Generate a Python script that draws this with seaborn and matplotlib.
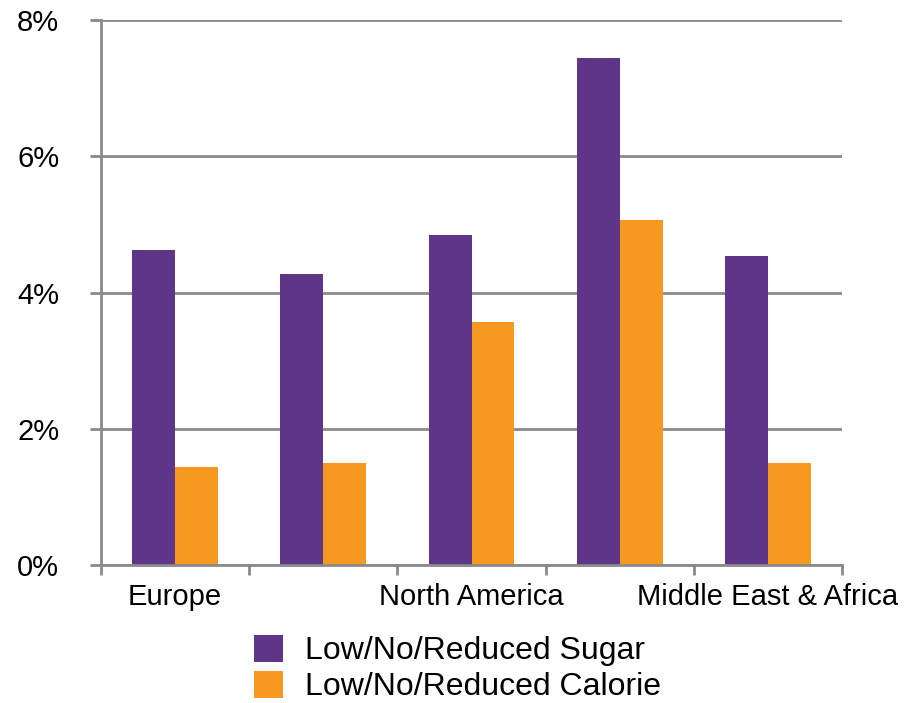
import matplotlib
matplotlib.use("Agg")
import matplotlib.pyplot as plt
import seaborn as sns
import pandas as pd
from matplotlib.ticker import FixedLocator, PercentFormatter

categories = ["Europe", "Asia Pacific", "North America", "Latin America", "Middle East & Africa"]
tick_labels = ["Europe", "", "North America", "", "Middle East & Africa"]
series_names = ["Low/No/Reduced Sugar", "Low/No/Reduced Calorie"]
sugar = [4.62, 4.27, 4.85, 7.44, 4.54]
calorie = [1.44, 1.49, 3.56, 5.06, 1.49]
y_ticks = [0, 2, 4, 6, 8]

df = pd.DataFrame({
    "region": categories * 2,
    "series": [series_names[0]] * len(categories) + [series_names[1]] * len(categories),
    "value": sugar + calorie,
})

sns.set_style("white")
plt.rcParams["font.family"] = ["Liberation Sans", "DejaVu Sans"]
plt.rcParams["text.color"] = "black"

fig = plt.figure(figsize=(9.07, 7.03), dpi=100)
ax = fig.add_axes([101/907, 1-565/703, 741/907, 545/703])

palette = {series_names[0]: "#5F3589", series_names[1]: "#F79820"}
sns.barplot(data=df, x="region", y="value", hue="series", order=categories,
            hue_order=series_names, palette=palette, width=0.58, gap=0,
            saturation=1, ax=ax, legend=True, edgecolor="none", linewidth=0)

grid_c = "#8a8a8a"
ax.set_xlim(-0.5, len(categories) - 0.5)
ax.set_ylim(0, 8)
ax.set_yticks(y_ticks)
ax.yaxis.set_major_formatter(PercentFormatter(decimals=0))
ax.yaxis.grid(True, color=grid_c, linewidth=2)
ax.set_axisbelow(True)
for s in ["top", "right"]:
    ax.spines[s].set_visible(False)
for s in ["left", "bottom"]:
    ax.spines[s].set_color(grid_c)
    ax.spines[s].set_linewidth(2)

ax.set_xticks(range(len(categories)))
ax.set_xticklabels(tick_labels)
ax.xaxis.set_minor_locator(FixedLocator([i - 0.5 for i in range(len(categories) + 1)]))
ax.tick_params(axis="x", which="major", length=0, pad=13, labelsize=21, colors="black")
ax.tick_params(axis="x", which="minor", length=7, width=2, color=grid_c, direction="out", bottom=True)
ax.tick_params(axis="y", which="major", length=8, width=2, color=grid_c, direction="out",
               pad=22, labelsize=21, labelcolor="black", left=True)
ax.set_xlabel("")
ax.set_ylabel("")

handles, labels = ax.get_legend_handles_labels()
ax.get_legend().remove()
leg = fig.legend(handles, labels, loc="upper left",
                 bbox_to_anchor=(254/907, 1-635/703), bbox_transform=fig.transFigure,
                 frameon=False, fontsize=23, handlelength=0.9, handleheight=0.9,
                 handletextpad=0.7, labelspacing=0.15, borderpad=0, borderaxespad=0)
for t in leg.get_texts():
    t.set_color("black")

fig.savefig("out.png", dpi=100)
